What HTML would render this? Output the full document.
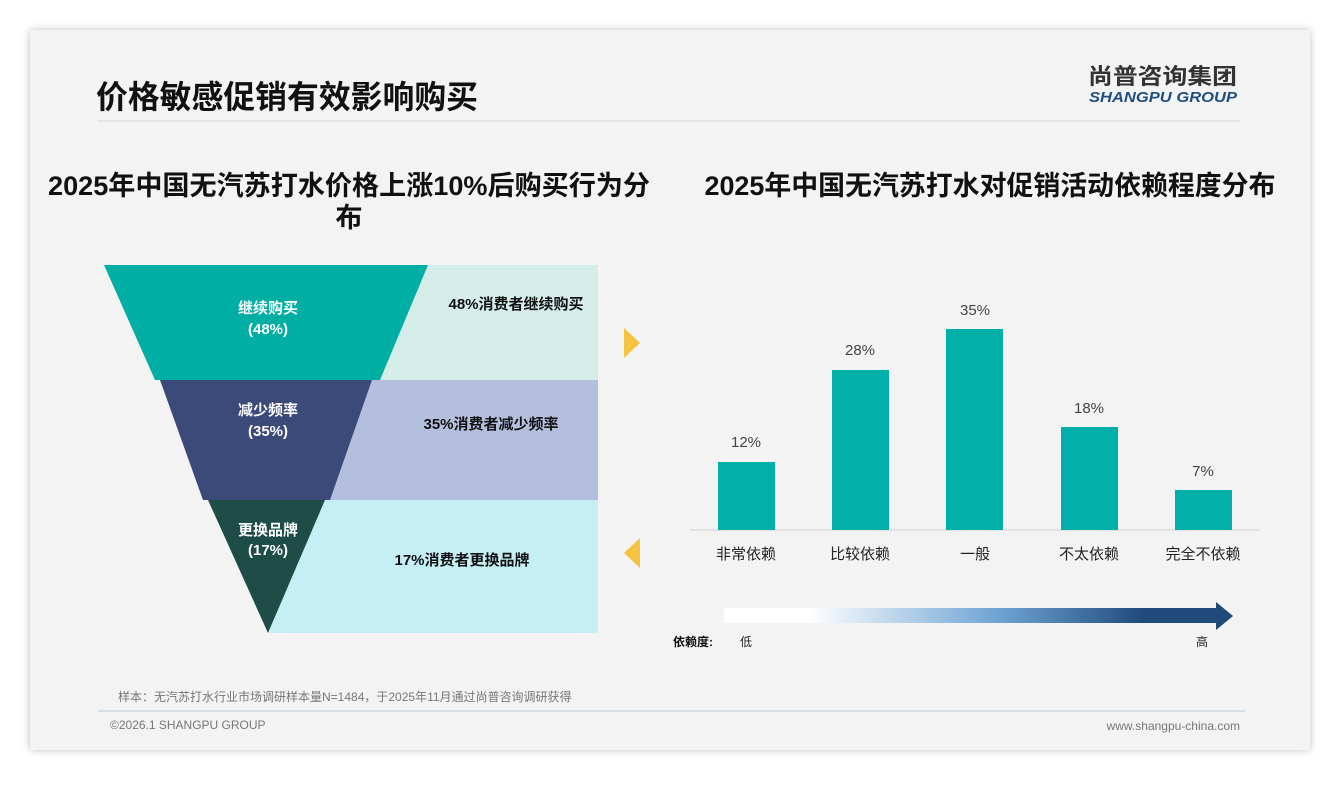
<!DOCTYPE html>
<html><head><meta charset="utf-8"><style>
body{margin:0;width:1340px;height:780px;background:#fff;font-family:"Liberation Sans","Noto Sans CJK SC",sans-serif;overflow:hidden}
</style></head><body>
<svg width="1340" height="780" xmlns="http://www.w3.org/2000/svg" font-family="Liberation Sans, Noto Sans CJK SC, sans-serif">
<defs>
<linearGradient id="g" x1="0" x2="1"><stop offset="0" stop-color="#fff"/><stop offset="0.17" stop-color="#fff"/><stop offset="0.55" stop-color="#6fa4d4"/><stop offset="0.85" stop-color="#1f4a7a"/><stop offset="1" stop-color="#1f4a7a"/></linearGradient>
<filter id="s" x="-5%" y="-5%" width="110%" height="110%"><feDropShadow dx="0" dy="0" stdDeviation="4" flood-color="#000" flood-opacity="0.25"/></filter>
</defs>
<rect x="30" y="30" width="1280" height="720" fill="#f3f3f3" filter="url(#s)"/>
<text x="96" y="108" font-size="32" font-weight="bold" fill="#111" textLength="382" lengthAdjust="spacingAndGlyphs">价格敏感促销有效影响购买</text>
<line x1="98" y1="121" x2="1240" y2="121" stroke="#e0e0e0" stroke-width="1.5"/>
<text x="1088" y="84" font-size="22" font-weight="bold" fill="#333" textLength="149" lengthAdjust="spacingAndGlyphs">尚普咨询集团</text>
<text x="1089" y="102" font-size="15" font-weight="bold" font-style="italic" fill="#1f4f80" textLength="148" lengthAdjust="spacingAndGlyphs">SHANGPU GROUP</text>
<g font-weight="bold" fill="#111" font-size="27" text-anchor="middle">
<text x="349" y="195" textLength="602" lengthAdjust="spacingAndGlyphs">2025年中国无汽苏打水价格上涨10%后购买行为分</text>
<text x="349" y="227">布</text>
<text x="990" y="195" textLength="571" lengthAdjust="spacingAndGlyphs">2025年中国无汽苏打水对促销活动依赖程度分布</text>
</g>
<rect x="270" y="265" width="328" height="115" fill="#d4ede8"/>
<rect x="270" y="380" width="328" height="120" fill="#b4bedd"/>
<rect x="270" y="500" width="328" height="133" fill="#c5eef5"/>
<polygon points="104,265 428,265 380,380 155,380" fill="#00aea4"/>
<polygon points="160,380 372,380 330,500 203,500" fill="#3c4a7a"/>
<polygon points="208,500 325,500 268,633" fill="#1e4d48"/>
<g fill="#fff" font-size="15" font-weight="bold" text-anchor="middle">
<text x="268" y="313">继续购买</text><text x="268" y="334">(48%)</text>
<text x="268" y="415">减少频率</text><text x="268" y="436">(35%)</text>
<text x="268" y="535">更换品牌</text><text x="268" y="555">(17%)</text>
</g>
<g fill="#111" font-size="15" font-weight="bold" text-anchor="middle">
<text x="516" y="309">48%消费者继续购买</text>
<text x="491" y="429">35%消费者减少频率</text>
<text x="462" y="565">17%消费者更换品牌</text>
</g>
<polygon points="624,328 640,343 624,358" fill="#f5c242"/>
<polygon points="640,538 624,553 640,568" fill="#f5c242"/>
<line x1="690" y1="530" x2="1260" y2="530" stroke="#d0d0d0"/>
<g fill="#00b0a8">
<rect x="718" y="462" width="57" height="68"/>
<rect x="832" y="370" width="57" height="160"/>
<rect x="946" y="329" width="57" height="201"/>
<rect x="1061" y="427" width="57" height="103"/>
<rect x="1175" y="490" width="57" height="40"/>
</g>
<g fill="#444" font-size="15" text-anchor="middle">
<text x="746" y="447">12%</text><text x="860" y="355">28%</text><text x="975" y="315">35%</text><text x="1089" y="413">18%</text><text x="1203" y="476">7%</text>
<g fill="#222"><text x="746" y="559">非常依赖</text><text x="860" y="559">比较依赖</text><text x="975" y="559">一般</text><text x="1089" y="559">不太依赖</text><text x="1203" y="559">完全不依赖</text></g>
</g>
<rect x="724" y="608" width="496" height="15" fill="url(#g)"/>
<polygon points="1216,602 1233,616 1216,630" fill="#1f4a7a"/>
<text x="673" y="646" font-size="12" font-weight="bold" fill="#111">依赖度:</text>
<text x="740" y="646" font-size="12" fill="#222">低</text>
<text x="1196" y="646" font-size="12" fill="#222">高</text>
<text x="118" y="701" font-size="12" fill="#777">样本：无汽苏打水行业市场调研样本量N=1484，于2025年11月通过尚普咨询调研获得</text>
<line x1="98" y1="711" x2="1245" y2="711" stroke="#b8c8d8"/>
<text x="110" y="729" font-size="12" fill="#777">©2026.1 SHANGPU GROUP</text>
<text x="1240" y="730" font-size="12" fill="#777" text-anchor="end">www.shangpu-china.com</text>
</svg>
</body></html>
